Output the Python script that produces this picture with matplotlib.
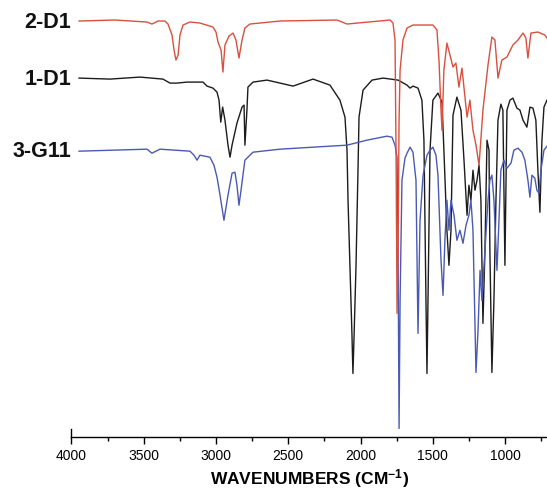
import numpy as np
import matplotlib
matplotlib.use('Agg')
import matplotlib.pyplot as plt
from matplotlib.ticker import MultipleLocator

plt.rcParams['font.family'] = ['Liberation Sans', 'DejaVu Sans']
plt.rcParams['mathtext.default'] = 'regular'

#### Spectra (wavenumber in cm-1, offset transmittance in a.u.)

# 2-D1 (red, top trace)
red_wn = [3947, 3700, 3477, 3443, 3400, 3353, 3332, 3304, 3290, 3277, 3262, 3249, 3228, 3180,
          3111, 3021, 3000, 2986, 2965, 2952, 2938, 2910, 2882, 2862, 2841, 2820, 2800, 2765,
          2557, 2163, 2094, 1797, 1776, 1762, 1755, 1748, 1741, 1734, 1727, 1707, 1679, 1638,
          1500, 1472, 1458, 1444, 1437, 1424, 1403, 1382, 1361, 1341, 1320, 1299, 1264, 1244,
          1223, 1202, 1181, 1154, 1119, 1092, 1071, 1050, 1023, 988, 947, 912, 877, 857, 843,
          822, 774, 726, 711]
red_t = [415, 416, 414, 412, 415, 415, 412, 401, 386, 376, 381, 401, 411, 414,
         413, 409, 404, 394, 386, 364, 391, 400, 403, 396, 378, 396, 408, 412,
         415, 416, 412, 416, 413, 396, 286, 123, 186, 316, 366, 396, 408, 411,
         411, 406, 376, 326, 306, 366, 393, 381, 369, 373, 349, 368, 319, 336,
         306, 291, 271, 326, 371, 399, 396, 358, 376, 379, 391, 396, 403, 398, 378,
         403, 404, 401, 398]

# 1-D1 (black, middle trace)
black_wn = [3947, 3733, 3526, 3367, 3318, 3270, 3201, 3090, 3062, 3021, 2993, 2979, 2967, 2954,
            2938, 2917, 2903, 2889, 2855, 2820, 2806, 2800, 2786, 2779, 2744, 2647, 2557, 2467,
            2329, 2212, 2143, 2108, 2094, 2087, 2060, 2053, 2046, 2032, 2018, 2011, 1983, 1921,
            1845, 1741, 1679, 1658, 1638, 1603, 1576, 1562, 1548, 1541, 1534, 1520, 1500, 1465,
            1437, 1424, 1403, 1389, 1375, 1361, 1334, 1306, 1285, 1264, 1251, 1237, 1223, 1209,
            1195, 1181, 1168, 1154, 1140, 1126, 1112, 1106, 1092, 1078, 1064, 1050, 1030, 1016,
            1002, 988, 967, 947, 919, 898, 877, 850, 829, 808, 788, 774, 760, 746, 732, 711]
black_t = [358, 357, 359, 357, 353, 353, 354, 354, 350, 348, 344, 336, 314, 329,
           316, 291, 279, 291, 313, 329, 331, 291, 326, 349, 354, 356, 353, 350,
           357, 351, 336, 319, 286, 236, 103, 63, 96, 169, 266, 319, 346, 356,
           358, 356, 351, 348, 350, 348, 336, 296, 136, 63, 136, 286, 336, 343,
           334, 286, 206, 171, 206, 321, 339, 326, 276, 221, 251, 236, 266, 246,
           256, 271, 236, 113, 186, 296, 286, 186, 64, 136, 236, 316, 332, 326,
           171, 326, 336, 338, 328, 326, 316, 309, 329, 328, 316, 266, 224, 296, 329, 336]

# 3-G11 (blue, bottom trace)
blue_wn = [3947, 3477, 3443, 3387, 3180, 3152, 3131, 3111, 3042, 3014, 2993, 2972, 2945, 2917,
           2889, 2869, 2855, 2841, 2827, 2800, 2744, 2557, 2329, 2094, 1956, 1818, 1783, 1762,
           1748, 1741, 1734, 1727, 1714, 1693, 1679, 1658, 1638, 1617, 1603, 1589, 1568, 1541,
           1520, 1500, 1479, 1465, 1444, 1430, 1417, 1403, 1389, 1375, 1354, 1334, 1313, 1292,
           1271, 1251, 1237, 1223, 1202, 1188, 1174, 1161, 1140, 1119, 1106, 1092, 1078, 1057,
           1043, 1030, 1009, 988, 960, 940, 912, 884, 864, 843, 829, 815, 795, 781, 767, 753,
           732, 711]
blue_t = [285, 287, 283, 287, 285, 281, 276, 281, 279, 271, 259, 241, 216, 241,
          263, 264, 251, 231, 246, 276, 284, 287, 289, 291, 296, 300, 299, 291,
          279, 186, 8, 136, 256, 278, 283, 289, 284, 256, 103, 216, 261, 281,
          286, 289, 281, 261, 176, 141, 196, 236, 206, 236, 221, 196, 206, 193,
          211, 221, 236, 206, 64, 106, 166, 136, 186, 236, 256, 261, 236, 166,
          216, 266, 276, 268, 273, 286, 288, 284, 276, 256, 239, 261, 258, 246, 243, 266,
          286, 290]

labels = ['2-D1', '1-D1', '3-G11']
label_pos = [414, 357, 285]

x_major = 500
x_minor = 250

## Plot it all

fig = plt.figure(figsize=(5.47, 4.93), dpi=100)
ax = fig.add_axes([0.1305, 0.1146, 0.8695, 0.8854])

ax.plot(black_wn, black_t, color='#1c1c1c', lw=1.0)
ax.plot(blue_wn, blue_t, color='#4a5ab4', lw=1.0)
ax.plot(red_wn, red_t, color='#d9503f', lw=1.0)

for lab, ypos in zip(labels, label_pos):
    ax.text(4000, ypos, lab, ha='right', va='center', fontsize=15.5,
            fontweight='bold', color='#111111', clip_on=False)

ax.set_xlim(4000, 711)
ax.set_ylim(0, 436)

for s in ['top', 'right']:
    ax.spines[s].set_visible(False)
ax.spines['left'].set_bounds(0, 7)
ax.spines['left'].set_linewidth(1.0)
ax.spines['bottom'].set_linewidth(1.0)
ax.set_yticks([])

ax.xaxis.set_major_locator(MultipleLocator(x_major))
ax.xaxis.set_minor_locator(MultipleLocator(x_minor))
ax.tick_params(axis='x', which='major', length=5, width=1.0, labelsize=10, pad=4)
ax.tick_params(axis='x', which='minor', length=3, width=1.0)

ax.set_xlabel('WAVENUMBERS (CM$^{-1}$)', fontsize=12.5, fontweight='bold', labelpad=3)

fig.savefig('out.png', dpi=100)
